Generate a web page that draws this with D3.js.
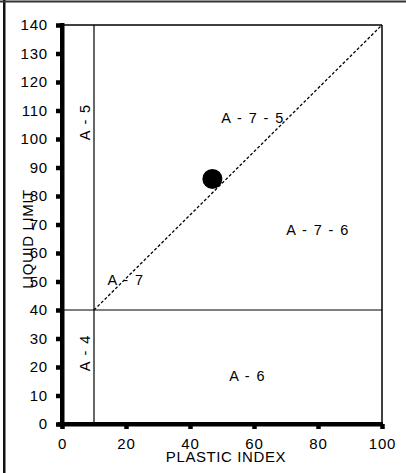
<!DOCTYPE html>
<html lang="en">
<head>
    <meta charset="UTF-8">
    <title>AASHTO chart</title>
    <script src="https://cdn.jsdelivr.net/npm/d3@7"></script>
    <style>
        body, html { margin: 0; padding: 0; background: #fff; overflow: hidden; }
        svg { display: block; }
        text { font-family: "Liberation Sans", Arial, sans-serif; fill: #000; }
    </style>
</head>
<body>
    <svg id="mainsvg"></svg>
    <script>
        // data
        const xTicks = [0, 20, 40, 60, 80, 100];
        const yTicks = [0, 10, 20, 30, 40, 50, 60, 70, 80, 90, 100, 110, 120, 130, 140];
        const boundaryPI = 10;   // vertical line
        const boundaryLL = 40;   // horizontal line
        const aLine = [[10, 40], [100, 140]];  // dashed line
        const samplePoint = [47, 86];
        const zoneLabels = [
            { text: 'A - 5', x: 7.3, y: 106, rotate: true },
            { text: 'A - 4', x: 7.3, y: 25, rotate: true },
            { text: 'A - 7 - 5', x: 59.7, y: 107.5 },
            { text: 'A - 7 - 6', x: 80, y: 68 },
            { text: 'A - 7', x: 20, y: 50.5 },
            { text: 'A - 6', x: 58, y: 17 }
        ];

        const width = 406, height = 473;
        const svg = d3.select('svg').attr('width', width).attr('height', height);

        const margin = { top: 25, right: 24, bottom: 49, left: 62 };
        const innerWidth = width - margin.left - margin.right;
        const innerHeight = height - margin.top - margin.bottom;

        // outer frame (only left and top are visible)
        svg.append('rect').attr('x', 3).attr('y', 0).attr('width', 2.5).attr('height', height).attr('fill', '#111');
        svg.append('rect').attr('x', 0).attr('y', 0.5).attr('width', width).attr('height', 2).attr('fill', '#333');

        const g = svg.append('g').attr('transform', `translate(${margin.left}, ${margin.top})`);

        const xScale = d3.scaleLinear().domain([0, 100]).range([0, innerWidth]);
        const yScale = d3.scaleLinear().domain([0, 140]).range([innerHeight, 0]);

        // plot box top / right
        g.append('line').attr('x1', 0).attr('x2', innerWidth).attr('y1', 0).attr('y2', 0)
            .attr('stroke', '#000').attr('stroke-width', 1.5);
        g.append('line').attr('x1', innerWidth).attr('x2', innerWidth).attr('y1', 0).attr('y2', innerHeight)
            .attr('stroke', '#000').attr('stroke-width', 1.5);

        // zone boundaries
        g.append('line')
            .attr('x1', xScale(boundaryPI)).attr('x2', xScale(boundaryPI))
            .attr('y1', yScale(0)).attr('y2', yScale(140))
            .attr('stroke', '#000').attr('stroke-width', 1.2);
        g.append('line')
            .attr('x1', xScale(0)).attr('x2', xScale(100))
            .attr('y1', yScale(boundaryLL)).attr('y2', yScale(boundaryLL))
            .attr('stroke', '#000').attr('stroke-width', 1.2);
        g.append('path')
            .attr('d', d3.line().x(d => xScale(d[0])).y(d => yScale(d[1]))(aLine))
            .attr('fill', 'none').attr('stroke', '#000').attr('stroke-width', 1.3)
            .attr('stroke-dasharray', '3,2');

        // axes
        const xAxis = d3.axisBottom(xScale).tickValues(xTicks).tickSize(5).tickPadding(9);
        const yAxis = d3.axisLeft(yScale).tickValues(yTicks).tickSize(6).tickPadding(8);

        const xAxisGroup = g.append('g').attr('transform', `translate(0, ${innerHeight})`).call(xAxis);
        const yAxisGroup = g.append('g').call(yAxis);

        [xAxisGroup, yAxisGroup].forEach(ax => {
            ax.select('.domain').remove();
            ax.selectAll('.tick line').attr('stroke', '#000').attr('stroke-width', 4.5);
            ax.selectAll('.tick text')
                .style('font-size', '15px')
                .style('letter-spacing', '0.8px')
                .style('font-family', '"Liberation Sans", Arial, sans-serif');
        });

        // thick axis lines
        g.append('rect').attr('x', -2).attr('y', -2).attr('width', 4.5).attr('height', innerHeight + 4).attr('fill', '#000');
        g.append('rect').attr('x', -4).attr('y', innerHeight - 2).attr('width', innerWidth + 5).attr('height', 4.5).attr('fill', '#000');

        // zone labels
        zoneLabels.forEach(d => {
            const t = g.append('text')
                .style('font-size', '14.5px')
                .style('letter-spacing', '1.4px')
                .attr('text-anchor', 'middle')
                .attr('dominant-baseline', 'central')
                .text(d.text);
            if (d.rotate) {
                t.attr('transform', `translate(${xScale(d.x)}, ${yScale(d.y)}) rotate(-90)`);
            } else {
                t.attr('x', xScale(d.x)).attr('y', yScale(d.y));
            }
        });

        // sample point
        g.append('circle')
            .attr('cx', xScale(samplePoint[0])).attr('cy', yScale(samplePoint[1]))
            .attr('r', 10).attr('fill', '#000');

        // axis titles
        svg.append('text')
            .attr('x', 226).attr('y', 462)
            .attr('text-anchor', 'middle')
            .style('font-size', '15px')
            .style('letter-spacing', '0.6px')
            .text('PLASTIC INDEX');
        svg.append('text')
            .attr('transform', 'translate(33, 239) rotate(-90)')
            .attr('text-anchor', 'middle')
            .style('font-size', '15px')
            .style('letter-spacing', '0.6px')
            .text('LIQUID  LIMIT');
    </script>
</body>
</html>
